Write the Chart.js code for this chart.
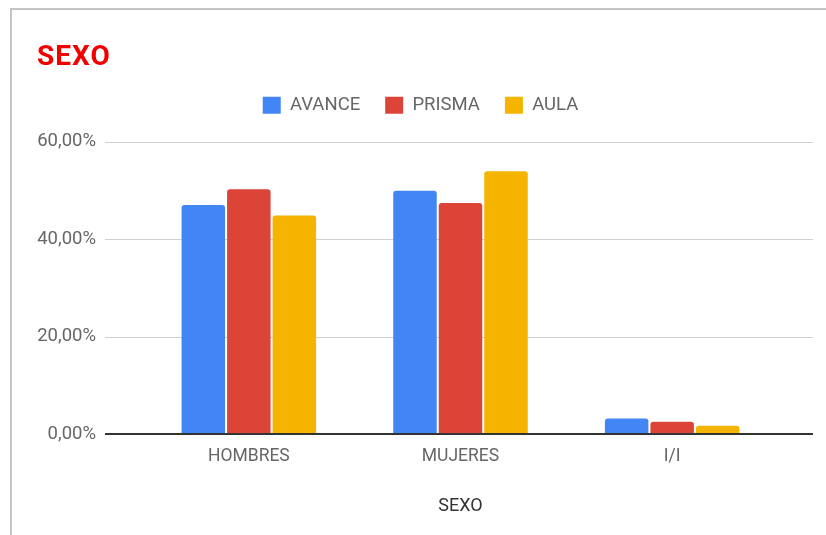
<!DOCTYPE html>
<html>
<head>
<meta charset="utf-8">
<script src="https://cdn.jsdelivr.net/npm/chart.js@4/dist/chart.umd.min.js"></script>
<style>
    html, body { margin: 0; padding: 0; background: #fff; }
    #wrap { position: relative; width: 826px; height: 535px; }
    #frame { position: absolute; left: 10px; top: 8px; right: 0; bottom: 0;
             border-top: 2px solid #c4c4c4; border-left: 2px solid #c4c4c4; }
    canvas { position: absolute; left: 0; top: 0; }
    #title { position: absolute; left: 37px; top: 42px; margin: 0;
             font: bold 28px/1 Roboto, sans-serif; letter-spacing: 1px; color: #f20000; }
</style>
</head>
<body>
<div id="wrap">
    <div id="frame"></div>
    <canvas id="sexo_chart" width="826" height="535"></canvas>
    <h1 id="title">SEXO</h1>
</div>
<script>
    var categories = ['HOMBRES', 'MUJERES', 'I/I'];
    var avance = [47.0, 49.9, 3.2];
    var prisma = [50.2, 47.4, 2.5];
    var aula = [44.8, 53.9, 1.7];
    var yTicks = [0, 20, 40, 60];

    // gridlines reach past the bars like the google chart does
    var wideGrid = {
        id: 'wideGrid',
        afterInit: function (chart) {
            // extra room under the legend
            var fit = chart.legend.fit;
            chart.legend.fit = function () {
                fit.call(this);
                this.height += 17;
            };
        },
        afterLayout: function (chart) {
            // legend is centred over the plot, not the whole canvas
            chart.legend.left += 13;
            chart.legend.right += 13;
        },
        beforeDatasetsDraw: function (chart) {
            var ctx = chart.ctx, y = chart.scales.y, area = chart.chartArea;
            ctx.save();
            ctx.strokeStyle = '#d0d0d0';
            ctx.lineWidth = 1;
            yTicks.forEach(function (v) {
                if (v === 0) return;
                var py = Math.round(y.getPixelForValue(v)) + 0.5;
                ctx.beginPath();
                ctx.moveTo(area.left - 38, py);
                ctx.lineTo(area.right + 35, py);
                ctx.stroke();
            });
            ctx.restore();
        },
        afterDatasetsDraw: function (chart) {
            var ctx = chart.ctx, y = chart.scales.y, area = chart.chartArea;
            var py = Math.round(y.getPixelForValue(0));
            ctx.save();
            ctx.strokeStyle = '#333';
            ctx.lineWidth = 2;
            ctx.beginPath();
            ctx.moveTo(area.left - 38, py);
            ctx.lineTo(area.right + 35, py);
            ctx.stroke();
            ctx.restore();
        }
    };

    var bar = {categoryPercentage: 0.645, barPercentage: 0.956, borderRadius: {topLeft: 3, topRight: 3}, borderSkipped: 'bottom'};

    new Chart(document.getElementById('sexo_chart'), {
        type: 'bar',
        data: {
            labels: categories,
            datasets: [
                Object.assign({label: 'AVANCE', data: avance, backgroundColor: '#4285F4'}, bar),
                Object.assign({label: 'PRISMA', data: prisma, backgroundColor: '#DB4437'}, bar),
                Object.assign({label: 'AULA', data: aula, backgroundColor: '#F4B400'}, bar)
            ]
        },
        plugins: [wideGrid],
        options: {
            responsive: false,
            animation: false,
            layout: {padding: {left: 37, right: 48, top: 71, bottom: 0}},
            plugins: {
                legend: {
                    labels: {
                        boxWidth: 18, boxHeight: 17,
                        color: '#666',
                        font: {family: 'Roboto', size: 18.5},
                        padding: 25
                    }
                },
                tooltip: {enabled: false}
            },
            scales: {
                x: {
                    grid: {display: false, drawTicks: false},
                    border: {display: false},
                    ticks: {color: '#666', font: {family: 'Roboto', size: 17.5}, padding: 12},
                    title: {
                        display: true, text: 'SEXO', color: '#333',
                        font: {family: 'Roboto', size: 18},
                        padding: {top: 10, bottom: 18}
                    },
                    afterFit: function (axis) { axis.height = 101; }
                },
                y: {
                    min: 0, max: 60,
                    afterBuildTicks: function (axis) {
                        axis.ticks = yTicks.map(function (v) { return {value: v}; });
                    },
                    grid: {display: false, drawTicks: false},
                    border: {display: false},
                    ticks: {
                        color: '#666',
                        font: {family: 'Roboto', size: 18.5},
                        padding: 47,
                        callback: function (v) { return v.toFixed(2).replace('.', ',') + '%'; }
                    },
                    afterFit: function (axis) { axis.width = 106; }
                }
            }
        }
    });
</script>
</body>
</html>
